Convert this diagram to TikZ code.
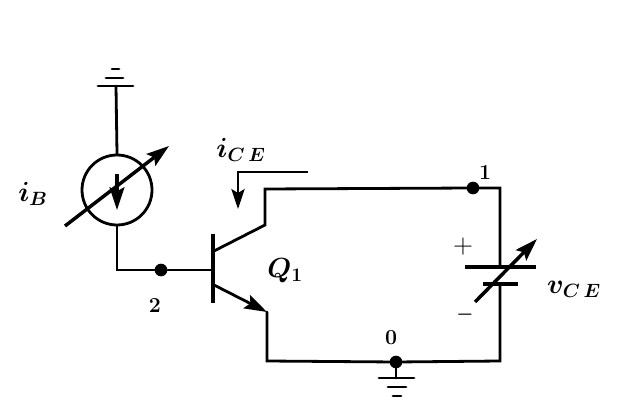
\documentclass[tikz,border=0pt]{standalone}
\usetikzlibrary{arrows.meta}
\begin{document}
\begin{tikzpicture}[
  x=0.75pt, y=-0.75pt,
  wire/.style = {line width=2.1pt, line cap=round, line join=miter},
  thin wire/.style = {line width=1.6pt},
  tip wire/.style = {line width=2.6pt, -{Stealth[length=17pt,width=11pt,inset=3pt]}},
  dot/.style = {shape=circle, fill=black, inner sep=0pt, minimum size=9.5pt},
  lab/.style = {inner sep=0pt, font=\fontsize{20}{22}\selectfont\boldmath},
  plain/.style = {inner sep=0pt, font=\fontsize{20}{22}\selectfont},
  sgn/.style = {inner sep=0pt, font=\fontsize{15}{17}\selectfont\boldmath},
  num/.style = {inner sep=0pt, font=\fontsize{16}{18}\selectfont\bfseries}
  ]
  \useasboundingbox (0,0) rectangle (620,416);
  % nodes
  \node[dot] (n2) at (161,270) {};
  \node[dot] (n1) at (473,188) {};
  \node[dot] (n0) at (396,362) {};
  \node[shape=circle, draw, line width=2.1pt, minimum size=52.5pt, inner sep=0pt] (src) at (117,190) {};
  % current source
  \coordinate (gndt) at (116,86);
  \coordinate (corner) at (117,270);
  \draw[wire] (gndt) -- (src.north);
  \draw[wire] (src.south) -- (corner) -- (n2) -- (213,270);
  \draw[wire] (98,86) -- (133,86);
  \draw[wire] (106,78) -- (123,78);
  \draw[wire] (112,69) -- (119,69);
  \draw[tip wire] (65,226) -- (169,146);
  \draw[tip wire] (117,174) -- (117,210);
  % transistor
  \draw[line width=2.6pt] (213,234) -- (213,303);
  \coordinate (coll) at (265,225);
  \coordinate (emit) at (267,312);
  \draw[wire] (214,251) -- (coll) -- (265,189) -- (n1) -- (500,188) -- (500,267);
  \draw[wire, -{Stealth[length=17pt,width=11pt,inset=3pt]}] (214,285) -- (emit);
  \draw[wire] (emit) -- (267,361) -- (n0) -- (500,361) -- (500,284);
  % battery
  \draw[line width=2.6pt] (465,267) -- (536,267);
  \draw[line width=2.6pt] (483,284) -- (518,284);
  \draw[tip wire] (475,302) -- (537,239);
  % bottom ground
  \draw[wire] (n0) -- (396,378);
  \draw[wire] (379,378) -- (414,378);
  \draw[wire] (388,387) -- (406,387);
  \draw[wire] (393,396) -- (401,396);
  % current arrow
  \draw[thin wire, -{Stealth[length=15pt,width=10pt,inset=3pt]}] (308,172) -- (238,172) -- (238,209);
  % labels
  \node[lab] (ib) at (33,194) {$i_B$};
  \node[lab] (ice) at (241,150) {$i_{C\,E}$};
  \node[lab] (q1) at (285,271) {$Q_1$};
  \node[lab] (vce) at (574,289) {$v_{C\,E}$};
  \node[num] (l2) at (155,306) {2};
  \node[num] (l1) at (485,173) {1};
  \node[num] (l0) at (391,338) {0};
  \node[plain] (plus) at (463,247) {$+$};
  \node[sgn] (minus) at (465,315) {$-$};
\end{tikzpicture}
\end{document}
